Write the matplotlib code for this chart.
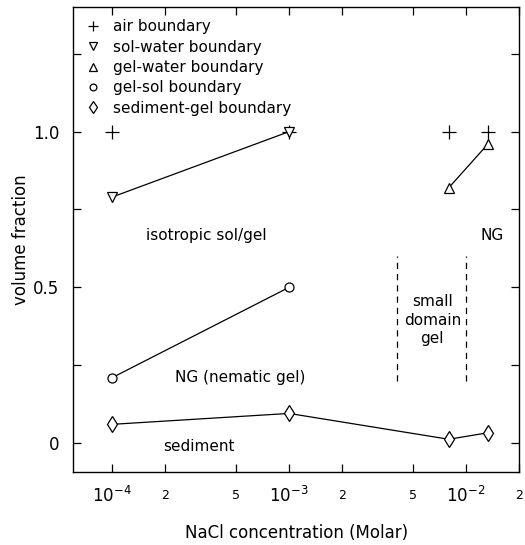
import matplotlib
matplotlib.use("Agg")
import matplotlib.pyplot as plt
from matplotlib.ticker import FixedLocator, FixedFormatter

# NaCl concentration (Molar) and volume fractions
air_x = [1e-4, 1e-3, 8e-3, 1.33e-2]
air_y = [1.0, 1.0, 1.0, 1.0]

solwater_x = [1e-4, 1e-3]
solwater_y = [0.79, 1.0]

gelwater_x = [8e-3, 1.33e-2]
gelwater_y = [0.82, 0.96]

gelsol_x = [1e-4, 1e-3]
gelsol_y = [0.21, 0.50]

sediment_x = [1e-4, 1e-3, 8e-3, 1.33e-2]
sediment_y = [0.06, 0.095, 0.012, 0.033]

major_ticks = [1e-4, 1e-3, 1e-2]
major_labels = [r"$10^{-4}$", r"$10^{-3}$", r"$10^{-2}$"]
minor_ticks = [2e-4, 5e-4, 2e-3, 5e-3, 2e-2]
minor_labels = ["2", "5", "2", "5", "2"]

fig = plt.figure(figsize=(5.25, 5.45), dpi=100)
ax = fig.add_axes([0.139, 0.134, 0.850, 0.853])

# connecting lines first, then open markers (legend shows markers only)
for xs, ys in [(solwater_x, solwater_y), (gelwater_x, gelwater_y),
               (gelsol_x, gelsol_y), (sediment_x, sediment_y)]:
    ax.plot(xs, ys, "-", color="black", lw=0.9)

mk = dict(ls="none", mfc="white", mec="black", mew=0.9)
ax.plot(air_x, air_y, "+", ls="none", color="black", ms=10, mew=0.9, label="air boundary")
ax.plot(solwater_x, solwater_y, marker="v", ms=7, label="sol-water boundary", **mk)
ax.plot(gelwater_x, gelwater_y, marker="^", ms=7, label="gel-water boundary", **mk)
ax.plot(gelsol_x, gelsol_y, marker="o", ms=6.5, label="gel-sol boundary", **mk)
ax.plot(sediment_x, sediment_y, marker="d", ms=8, label="sediment-gel boundary", **mk)

# small domain gel region
ax.plot([4.1e-3, 4.1e-3], [0.2, 0.6], color="black", lw=0.9, dashes=(5, 4))
ax.plot([1.0e-2, 1.0e-2], [0.2, 0.6], color="black", lw=0.9, dashes=(5, 4))

ax.text(3.4e-4, 0.667, "isotropic sol/gel", ha="center", va="center", fontsize=11)
ax.text(5.3e-4, 0.21, "NG (nematic gel)", ha="center", va="center", fontsize=11)
ax.text(3.1e-4, -0.012, "sediment", ha="center", va="center", fontsize=11)
ax.text(1.41e-2, 0.667, "NG", ha="center", va="center", fontsize=11)
ax.text(6.45e-3, 0.394, "small\ndomain\ngel", ha="center", va="center",
        fontsize=11, linespacing=1.3)

ax.set_xscale("log")
ax.set_xlim(6e-5, 2e-2)
ax.set_ylim(-0.093, 1.4)

ax.xaxis.set_major_locator(FixedLocator(major_ticks))
ax.xaxis.set_major_formatter(FixedFormatter(major_labels))
ax.xaxis.set_minor_locator(FixedLocator(minor_ticks))
ax.xaxis.set_minor_formatter(FixedFormatter(minor_labels))
ax.set_yticks([0, 0.5, 1.0])
ax.set_yticklabels(["0", "0.5", "1.0"])
ax.set_yticks([0.25, 0.75, 1.25], minor=True)

ax.tick_params(which="both", direction="in", top=True, right=True, length=6, width=0.9)
ax.tick_params(axis="both", which="major", labelsize=12, pad=10)
ax.tick_params(axis="x", which="minor", labelsize=9, pad=12)
for s in ax.spines.values():
    s.set_linewidth(1.0)

ax.set_xlabel("NaCl concentration (Molar)", fontsize=12, labelpad=13)
ax.set_ylabel("volume fraction", fontsize=12, labelpad=2)

ax.legend(loc="upper left", frameon=False, fontsize=11, handlelength=1.0,
          handletextpad=0.8, labelspacing=0.35, borderaxespad=0.4, markerscale=0.75)

fig.savefig("out.png", dpi=100)
